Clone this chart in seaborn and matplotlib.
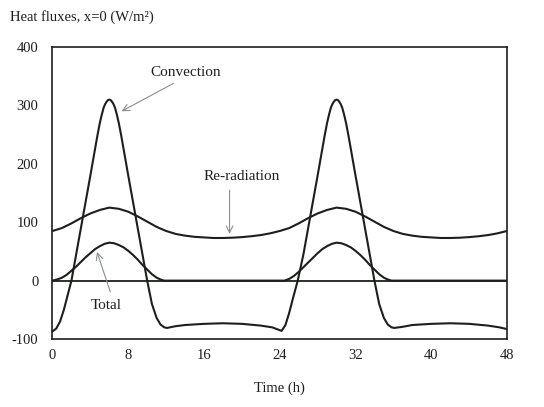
import matplotlib
matplotlib.use("Agg")
import matplotlib.pyplot as plt
import seaborn as sns
import pandas as pd

# ---- data ----
conv_t = [0, 0.4, 0.8, 1.2, 1.6, 2.0, 2.5, 3.0, 3.5, 4.0, 4.5, 4.75, 5.0, 5.2, 5.4,
          5.55, 5.7, 5.85, 6.0, 6.15, 6.3, 6.45, 6.6, 6.8, 7.0, 7.25, 7.5, 8.0,
          8.5, 9.0, 9.5, 10.0, 10.5, 11.0, 11.4, 11.8, 12.1,
          13, 14, 16, 18, 20, 22, 23.2, 24.2, 24.6, 25.0, 25.4, 25.9, 26.5, 27.0,
          27.5, 28.0, 28.5, 28.75, 29.0, 29.2, 29.4, 29.55, 29.7, 29.85, 30.0,
          30.15, 30.3, 30.45, 30.6, 30.8, 31.0, 31.25, 31.5, 32.0,
          32.5, 33.0, 33.5, 34.0, 34.5, 35.0, 35.4, 35.8, 36.1, 37, 38, 40, 42, 44,
          46, 47.2, 48]
conv_v = [-87, -82, -70, -50, -25, 0, 45, 90, 135, 180, 226, 249, 270, 284, 296,
          302, 306, 309, 310, 309, 306, 302, 296, 284, 270, 249, 226, 180,
          135, 90, 45, 0, -40, -64, -75, -80, -81,
          -78, -76, -74, -73, -74, -77, -80, -86, -76, -55, -30, 0, 45, 90,
          135, 180, 226, 249, 270, 284, 296, 302, 306, 309, 310,
          309, 306, 302, 296, 284, 270, 249, 226, 180,
          135, 90, 45, 0, -40, -64, -75, -80, -81, -79, -76, -74, -73, -74,
          -77, -80, -83]

rerad_t = list(range(0, 49))
rerad_v = [85, 90, 98, 107, 115, 121, 125, 123, 118, 110, 101, 92, 85, 80, 77, 75,
           74, 73, 73, 73.5, 74.5, 76, 78, 81, 85,
           90, 98, 107, 115, 121, 125, 123, 118, 110, 101, 92, 85, 80, 77, 75,
           74, 73, 73, 73.5, 74.5, 76, 78, 81, 85]

total_t = [0, 0.5, 1, 1.5, 2, 2.5, 3, 3.5, 4, 4.5, 5, 5.5, 6, 6.5, 7, 7.5, 8, 8.5,
           9, 9.5, 10, 10.5, 11, 11.4, 11.8, 18,
           24.5, 25, 25.5, 26, 26.5, 27, 27.5, 28, 28.5, 29, 29.5, 30, 30.5, 31,
           31.5, 32, 32.5, 33, 33.5, 34, 34.5, 35, 35.4, 35.8, 42, 48]
total_v = [0, 2, 5, 10, 17, 24, 32, 40, 47, 54, 59, 63, 65, 64, 61, 57, 51, 44,
           36, 27, 19, 11, 5, 2, 0, 0,
           0, 3, 8, 15, 23, 31, 39, 47, 54, 59, 63, 65, 64, 61,
           57, 51, 44, 36, 27, 19, 11, 5, 2, 0, 0, 0]

x_ticks = [0, 8, 16, 24, 32, 40, 48]
y_ticks = [-100, 0, 100, 200, 300, 400]
y_tick_labels = ["-100", "0", "100", "200", "300", "400"]

# ---- style ----
sns.set_theme(style="white")
plt.rcParams["font.family"] = ["Liberation Serif", "DejaVu Serif"]
plt.rcParams["axes.unicode_minus"] = False

ink = "#1c1f1c"
fig = plt.figure(figsize=(5.44, 4.07), dpi=100)
ax = fig.add_axes([0.0965, 0.167, 0.8355, 0.7175])

ax.axhline(0, color=ink, lw=1.3, zorder=1)

df_c = pd.DataFrame({"t": conv_t, "v": conv_v})
df_r = pd.DataFrame({"t": rerad_t, "v": rerad_v})
df_s = pd.DataFrame({"t": total_t, "v": total_v})
for d in (df_c, df_r, df_s):
    sns.lineplot(data=d, x="t", y="v", ax=ax, color=ink, lw=1.5, sort=False,
                 estimator=None, zorder=3)

ax.set_xlim(0, 48)
ax.set_ylim(-100, 400)
ax.set_xticks(x_ticks)
ax.set_yticks(y_ticks)
ax.set_yticklabels(y_tick_labels)
ax.tick_params(axis="x", direction="in", length=5, width=0.8, colors=ink,
               labelsize=10.5, pad=7, top=False)
ax.tick_params(axis="y", direction="out", length=4, width=0.8, colors=ink,
               labelsize=10.5, pad=6, right=False)
for s in ax.spines.values():
    s.set_color(ink)
    s.set_linewidth(1.2)
ax.set_xlabel("Time (h)", fontsize=10.5, color=ink, labelpad=14)
ax.set_ylabel("")

fig.text(10 / 544, 1 - 17 / 407, "Heat fluxes, x=0 (W/m²)", fontsize=10.5,
         color=ink, ha="left", va="center")

arrow = dict(arrowstyle="->", color="#8a8f8a", lw=0.8, shrinkA=0, shrinkB=0)
# Convection
ax.text(14.1, 357, "Convection", ha="center", va="center", fontsize=11, color=ink)
ax.annotate("", xy=(7.3, 290), xytext=(12.8, 338), arrowprops=arrow)
# Re-radiation
ax.text(20.0, 178, "Re-radiation", ha="center", va="center", fontsize=11, color=ink)
ax.annotate("", xy=(18.7, 80), xytext=(18.7, 155), arrowprops=arrow)
# Total
ax.text(5.7, -43, "Total", ha="center", va="center", fontsize=11, color=ink)
ax.annotate("", xy=(4.7, 49), xytext=(6.1, -19), arrowprops=arrow)

fig.savefig("out.png", dpi=100)
